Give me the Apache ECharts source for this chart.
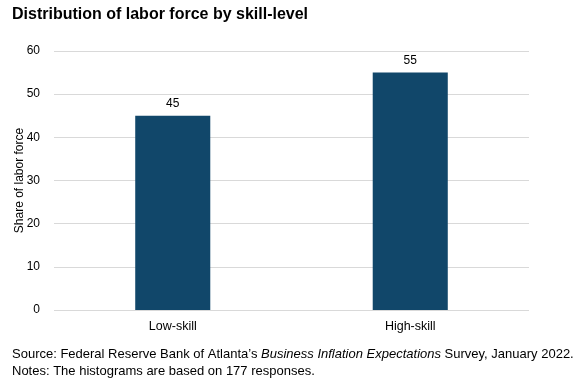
<!DOCTYPE html>
<html>
<head>
<meta charset="utf-8">
<script src="https://cdn.jsdelivr.net/npm/echarts@6/dist/echarts.min.js"></script>
<style>
  html, body { margin: 0; padding: 0; background: #fff; }
  #chart { width: 586px; height: 384px; }
</style>
</head>
<body>
<div id="chart"></div>
<script>
// 数据
const categories = ['Low-skill', 'High-skill']
const shares = [45, 55]
const yTicks = { min: 0, max: 60, interval: 10 }

const FONT = 'Liberation Sans, Arial, sans-serif'
const BAR_COLOR = '#11476a'

const chart = echarts.init(document.getElementById('chart'), null, { renderer: 'canvas' })

const noteStyle = { fontFamily: FONT, fontSize: 13, color: '#000', fontWeight: 'normal', lineHeight: 17 }

chart.setOption({
    animation: false,
    title: [
        {
            text: 'Distribution of labor force by skill-level',
            left: 12,
            top: 7,
            padding: 0,
            textStyle: { fontFamily: FONT, fontSize: 16, fontWeight: 'bold', color: '#000' }
        },
        {
            // 来源说明（斜体部分用 rich）
            text: '{n|Source: Federal Reserve Bank of Atlanta\u2019s }{i|Business Inflation Expectations}{n| Survey, January 2022.}\n{n|Notes: The histograms are based on 177 responses.}',
            left: 12,
            top: 346,
            padding: 0,
            textStyle: {
                ...noteStyle,
                rich: {
                    n: noteStyle,
                    i: { ...noteStyle, fontStyle: 'italic' }
                }
            }
        }
    ],
    grid: { left: 54, right: 57, top: 51, bottom: 74, containLabel: false, outerBoundsMode: 'none' },
    xAxis: {
        type: 'category',
        data: categories,
        axisLine: { show: false },
        axisTick: { show: false },
        axisLabel: { fontFamily: FONT, fontSize: 12.5, color: '#000', margin: 10 }
    },
    yAxis: {
        type: 'value',
        min: yTicks.min,
        max: yTicks.max,
        interval: yTicks.interval,
        name: 'Share of labor force',
        nameLocation: 'middle',
        nameGap: 28,
        nameMoveOverlap: false,
        nameTextStyle: { fontFamily: FONT, fontSize: 12, color: '#000' },
        axisLine: { show: false },
        axisTick: { show: false },
        axisLabel: { fontFamily: FONT, fontSize: 12, color: '#000', margin: 14 },
        splitLine: { lineStyle: { color: '#d9d9d9', width: 1 } }
    },
    series: [{
        type: 'bar',
        data: shares,
        barWidth: '31.6%',
        itemStyle: { color: BAR_COLOR },
        label: {
            show: true,
            position: 'top',
            distance: 6,
            fontFamily: FONT,
            fontSize: 12,
            color: '#000'
        }
    }]
})
</script>
</body>
</html>
